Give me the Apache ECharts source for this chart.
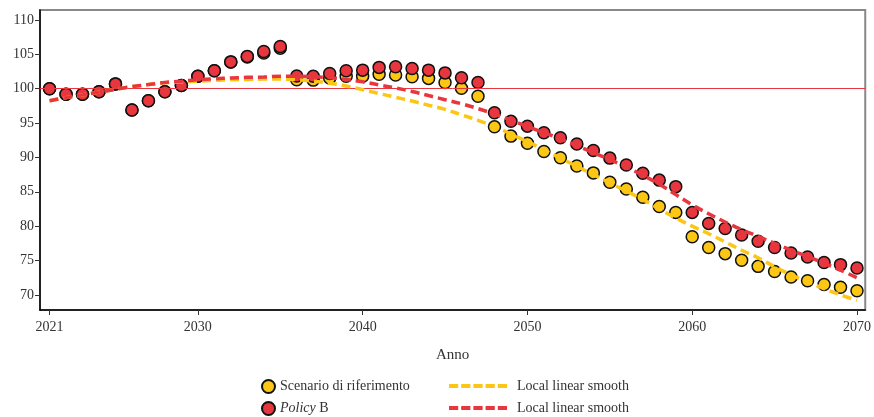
<!DOCTYPE html>
<html>
<head>
<meta charset="utf-8">
<script src="https://cdn.jsdelivr.net/npm/echarts@6/dist/echarts.min.js"></script>
<style>
  html, body { margin: 0; padding: 0; background: #fff; }
  #main { width: 874px; height: 417px; }
</style>
</head>
<body>
<div id="main"></div>
<script>
// anni 2021-2070
var years = [];
for (var y = 2021; y <= 2070; y++) years.push(y);

// Scenario di riferimento (punti)
var baseVals = [
  100.0, 99.2, 99.2, 99.55, 100.7, 96.9, 98.25, 99.55, 100.45, 101.8,
  102.6, 103.9, 104.6, 105.2, 105.9, 101.3, 101.25, 101.55, 101.8, 101.8,
  102.1, 102.0, 101.75, 101.5, 100.9, 100.05, 98.9, 94.45, 93.1, 92.05,
  90.85, 89.95, 88.75, 87.75, 86.4, 85.4, 84.2, 82.85, 82.0, 78.45,
  76.9, 76.0, 75.05, 74.15, 73.4, 72.6, 72.05, 71.5, 71.1, 70.6
];
// Policy B (punti)
var policyVals = [
  100.0, 99.2, 99.2, 99.55, 100.7, 96.9, 98.25, 99.55, 100.45, 101.8,
  102.6, 103.9, 104.7, 105.4, 106.15, 101.85, 101.8, 102.2, 102.6, 102.7,
  103.1, 103.2, 102.95, 102.7, 102.3, 101.6, 100.9, 96.5, 95.25, 94.55,
  93.6, 92.85, 91.95, 91.0, 89.9, 88.9, 87.7, 86.7, 85.75, 82.0,
  80.4, 79.65, 78.7, 77.8, 76.9, 76.1, 75.5, 74.7, 74.4, 73.9
];
// Local linear smooth - scenario di riferimento
var baseSmooth = [
  98.25, 98.7, 99.1, 99.5, 99.9, 100.3, 100.6, 100.85, 101.0, 101.1,
  101.2, 101.3, 101.35, 101.4, 101.4, 101.3, 101.1, 100.8, 100.4, 99.85,
  99.3, 98.75, 98.2, 97.6, 97.0, 96.2, 95.4, 94.5, 93.4, 92.3,
  91.1, 89.9, 88.7, 87.5, 86.3, 85.1, 83.9, 82.5, 81.2, 80.0,
  78.9, 77.7, 76.5, 75.4, 74.1, 72.9, 71.9, 70.9, 70.0, 69.2
];
// Local linear smooth - Policy B
var policySmooth = [
  98.25, 98.7, 99.1, 99.5, 99.9, 100.3, 100.6, 100.9, 101.1, 101.3,
  101.45, 101.55, 101.65, 101.7, 101.8, 101.8, 101.75, 101.6, 101.35, 101.0,
  100.55, 100.1, 99.6, 99.0, 98.4, 97.8, 97.1, 96.3, 95.4, 94.5,
  93.6, 92.7, 91.7, 90.7, 89.7, 88.6, 87.4, 86.1, 84.6, 83.1,
  81.8, 80.6, 79.5, 78.5, 77.5, 76.5, 75.6, 74.6, 73.6, 72.5
];
var xTicks = [2021, 2030, 2040, 2050, 2060, 2070];
var yTicks = [70, 75, 80, 85, 90, 95, 100, 105, 110];

var YELLOW = '#fcc614';
var RED = '#e8363f';
var FONT = 'Liberation Serif';
// icona tratteggiata per la legenda
var DASH_ICON = 'path://M0,0h9.2v4h-9.2z M12.2,0h9.2v4h-9.2z M24.4,0h9.2v4h-9.2z M36.6,0h9.2v4h-9.2z M48.8,0h9.2v4h-9.2z';

function pairs(vals) {
  return years.map(function (yr, i) { return [yr, vals[i]]; });
}

var legendText = {
  fontFamily: FONT, fontSize: 14, color: '#333',
  rich: { i: { fontFamily: FONT, fontSize: 14, fontStyle: 'italic', color: '#333' } }
};

function pointLegend(name, top) {
  return {
    data: [name], left: 261, top: top, padding: 0,
    itemWidth: 13, itemHeight: 13, textStyle: legendText,
    formatter: function (n) { return n === 'Policy B' ? '{i|Policy} B' : n; }
  };
}
function lineLegend(name, top) {
  return {
    data: [{ name: name, icon: DASH_ICON }], left: 449, top: top, padding: 0,
    itemWidth: 58, itemHeight: 4,
    textStyle: { fontFamily: FONT, fontSize: 14, color: '#333', padding: [0, 0, 0, 5] },
    formatter: function () { return 'Local linear smooth'; }
  };
}

var chart = echarts.init(document.getElementById('main'));
var option = {
  animation: false,
  textStyle: { fontFamily: FONT },
  grid: {
    left: 40, right: 8, top: 10, bottom: 107,
    show: true, borderColor: '#888', borderWidth: 2, backgroundColor: 'transparent'
  },
  legend: [
    pointLegend('Scenario di riferimento', 379),
    pointLegend('Policy B', 401),
    lineLegend('smoothBase', 379),
    lineLegend('smoothPolicy', 401)
  ],
  xAxis: {
    type: 'value', min: 2020.42, max: 2070.5,
    name: 'Anno', nameLocation: 'middle', nameGap: 38,
    nameTextStyle: { fontFamily: FONT, fontSize: 15, color: '#333' },
    axisLine: { show: true, onZero: false, lineStyle: { color: '#000', width: 1.5 } },
    axisTick: { show: true, length: 5, customValues: xTicks, lineStyle: { color: '#333' } },
    axisLabel: {
      customValues: xTicks, fontFamily: FONT, fontSize: 14, color: '#333', margin: 10,
      formatter: function (v) { return String(v); }
    },
    splitLine: { show: false }
  },
  yAxis: {
    type: 'value', min: 67.8, max: 111.45,
    axisLine: { show: true, lineStyle: { color: '#000', width: 1.5 } },
    axisTick: { show: true, length: 5, customValues: yTicks, lineStyle: { color: '#333' } },
    axisLabel: {
      customValues: yTicks, fontFamily: FONT, fontSize: 14, color: '#333', margin: 6,
      formatter: function (v) { return String(v); }
    },
    splitLine: { show: false }
  },
  series: [
    {
      name: 'Scenario di riferimento', type: 'scatter', data: pairs(baseVals),
      symbol: 'circle', symbolSize: 12, z: 3,
      itemStyle: { color: YELLOW, opacity: 1, borderColor: '#111', borderWidth: 1.5 },
      markLine: {
        silent: true, symbol: 'none', label: { show: false },
        lineStyle: { color: RED, width: 1, type: 'solid' },
        data: [{ yAxis: 100 }]
      }
    },
    {
      name: 'Policy B', type: 'scatter', data: pairs(policyVals),
      symbol: 'circle', symbolSize: 12, z: 4,
      itemStyle: { color: RED, opacity: 1, borderColor: '#111', borderWidth: 1.5 }
    },
    {
      name: 'smoothBase', type: 'line', data: pairs(baseSmooth),
      smooth: 0.4, showSymbol: false, symbol: 'none', z: 5,
      itemStyle: { color: YELLOW },
      lineStyle: { color: YELLOW, width: 3.5, type: [9, 5] }
    },
    {
      name: 'smoothPolicy', type: 'line', data: pairs(policySmooth),
      smooth: 0.4, showSymbol: false, symbol: 'none', z: 5,
      itemStyle: { color: RED },
      lineStyle: { color: RED, width: 3.5, type: [9, 5] }
    }
  ]
};
option && chart.setOption(option);
</script>
</body>
</html>
